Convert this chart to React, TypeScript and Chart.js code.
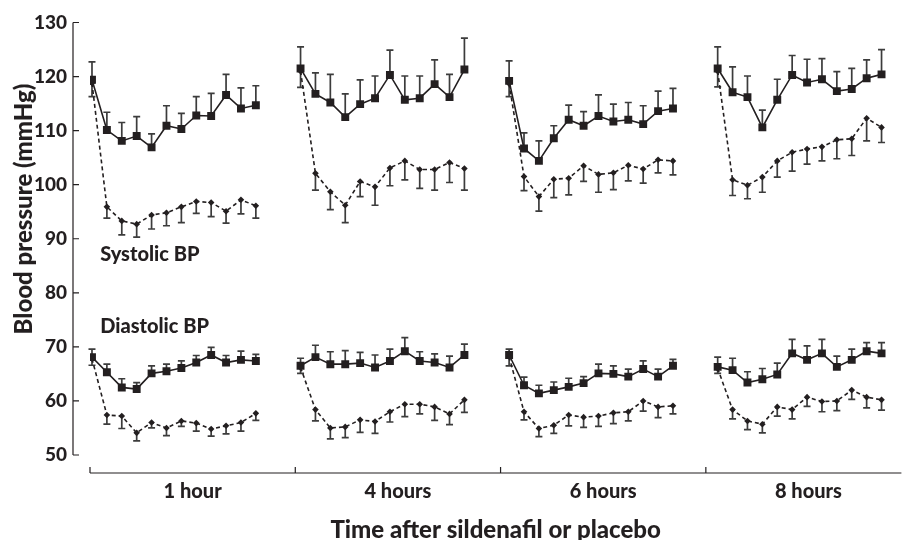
import React, { useEffect, useRef } from "react";
import { Chart, registerables } from "chart.js";

Chart.register(...registerables);

// ---------- data ----------
const groupLabels = ["1 hour", "4 hours", "6 hours", "8 hours"];
const yTickValues = [50, 60, 70, 80, 90, 100, 110, 120, 130];
const annotationTexts = ["Systolic BP", "Diastolic BP"];
const yTitle = "Blood pressure (mmHg)";
const xTitle = "Time after sildenafil or placebo";

// Systolic, placebo (solid line, squares) – per group of 12 readings
const sysPlacebo = [
  [119.4, 110.1, 108.1, 109.0, 106.9, 110.9, 110.3, 112.8, 112.7, 116.6, 114.1, 114.7],
  [121.5, 116.8, 115.2, 112.5, 114.9, 116.0, 120.3, 115.7, 116.0, 118.6, 116.2, 121.3],
  [119.2, 106.7, 104.4, 108.6, 112.0, 110.9, 112.7, 111.7, 112.0, 111.2, 113.6, 114.1],
  [121.5, 117.1, 116.2, 110.6, 115.7, 120.3, 118.9, 119.5, 117.3, 117.7, 119.7, 120.4],
];
const sysPlaceboErr = [
  [3.3, 3.3, 3.4, 3.6, 2.5, 3.7, 2.9, 3.5, 4.2, 3.8, 3.8, 3.6],
  [4.0, 3.9, 5.2, 4.3, 4.5, 4.1, 4.6, 4.4, 4.1, 4.5, 4.2, 5.8],
  [3.7, 2.9, 3.7, 2.3, 2.7, 2.6, 3.9, 3.2, 3.2, 3.4, 3.7, 3.7],
  [4.0, 4.7, 3.9, 3.2, 3.8, 3.6, 4.3, 3.8, 3.6, 3.8, 3.4, 4.6],
];

// Systolic, sildenafil (dashed line, diamonds)
const sysSildenafil = [
  [118.8, 95.9, 93.3, 92.7, 94.4, 94.8, 95.9, 96.9, 96.7, 95.1, 97.2, 96.1],
  [121.0, 102.1, 98.7, 96.2, 100.6, 99.6, 103.1, 104.4, 102.8, 102.8, 104.1, 103.0],
  [118.7, 101.5, 97.8, 101.0, 101.2, 103.5, 101.9, 102.2, 103.6, 102.9, 104.6, 104.4],
  [121.0, 100.9, 99.9, 101.4, 104.4, 106.0, 106.6, 107.0, 108.3, 108.5, 112.3, 110.6],
];
const sysSildenafilErr = [
  [2.5, 2.1, 2.6, 2.4, 2.6, 2.4, 2.9, 2.2, 2.6, 2.2, 2.6, 2.3],
  [3.0, 3.1, 3.3, 3.2, 2.8, 3.4, 3.3, 3.5, 3.5, 3.8, 3.7, 4.0],
  [2.4, 2.6, 2.7, 3.4, 3.1, 2.9, 3.3, 3.1, 2.9, 2.6, 2.4, 2.6],
  [2.9, 2.9, 2.5, 2.8, 3.0, 3.5, 2.8, 2.6, 3.5, 3.1, 4.2, 2.8],
];

// Diastolic, placebo (solid line, squares)
const diaPlacebo = [
  [68.1, 65.3, 62.5, 62.2, 65.1, 65.5, 66.1, 67.1, 68.5, 67.1, 67.6, 67.4],
  [66.5, 68.1, 66.8, 66.8, 67.0, 66.2, 67.4, 69.2, 67.4, 67.1, 66.2, 68.5],
  [68.5, 62.9, 61.4, 62.0, 62.6, 63.3, 65.1, 65.0, 64.5, 65.9, 64.5, 66.5],
  [66.3, 65.7, 63.4, 64.0, 64.9, 68.8, 67.6, 68.8, 66.3, 67.6, 69.2, 68.8],
];
const diaPlaceboErr = [
  [1.5, 1.5, 1.6, 1.2, 1.4, 1.3, 1.3, 1.3, 1.4, 1.3, 1.6, 1.2],
  [1.4, 2.2, 2.3, 2.5, 2.0, 2.3, 2.2, 2.5, 1.7, 1.6, 2.1, 2.0],
  [1.1, 1.5, 1.5, 1.5, 1.6, 1.2, 1.7, 1.5, 1.4, 1.5, 1.4, 1.2],
  [1.8, 2.2, 2.0, 2.0, 2.1, 2.6, 2.6, 2.6, 2.0, 2.0, 1.6, 2.0],
];

// Diastolic, sildenafil (dashed line, diamonds)
const diaSildenafil = [
  [67.8, 57.4, 57.2, 54.1, 56.0, 55.0, 56.3, 55.9, 54.8, 55.4, 56.0, 57.7],
  [66.2, 58.4, 55.0, 55.2, 56.5, 56.2, 58.0, 59.4, 59.4, 58.9, 57.6, 60.2],
  [68.2, 58.0, 54.9, 55.5, 57.4, 57.0, 57.2, 57.8, 58.0, 60.0, 58.9, 59.1],
  [66.0, 58.4, 56.3, 55.7, 58.9, 58.4, 60.7, 59.9, 60.0, 62.0, 60.7, 60.2],
];
const diaSildenafilErr = [
  [1.2, 1.7, 2.3, 1.5, 1.0, 1.4, 1.0, 1.5, 1.3, 1.5, 1.6, 1.3],
  [1.1, 2.1, 2.0, 2.0, 2.3, 2.2, 1.9, 2.3, 1.8, 2.5, 2.0, 2.3],
  [1.7, 1.5, 1.5, 1.5, 2.0, 1.9, 1.9, 2.0, 1.7, 1.9, 2.0, 1.5],
  [0.9, 1.7, 1.6, 1.6, 1.7, 1.7, 1.7, 1.9, 1.8, 1.7, 2.0, 1.9],
];

// ---------- helpers ----------
const FONT = "Lato, 'Open Sans', sans-serif";
const WEIGHT = "900";
const INK = "#231f20";
const BAR = "#3c3c3c";
const STEP = 14; // x units between the starts of two groups

function toPoints(groups: number[][]) {
  const pts: { x: number; y: number | null }[] = [];
  groups.forEach((vals, g) => {
    vals.forEach((v, i) => pts.push({ x: g * STEP + i, y: v }));
    pts.push({ x: g * STEP + 12.5, y: null });
  });
  return pts;
}
function toErrs(groups: number[][]) {
  const out: (number | null)[] = [];
  groups.forEach((vals) => {
    vals.forEach((v) => out.push(v));
    out.push(null);
  });
  return out;
}

const errorBarsPlugin = {
  id: "errorBars",
  beforeDatasetsDraw(chart: any) {
    const { ctx } = chart;
    const ys = chart.scales.y;
    chart.data.datasets.forEach((ds: any, di: number) => {
      const meta = chart.getDatasetMeta(di);
      ctx.save();
      ctx.strokeStyle = BAR;
      ctx.lineWidth = 1.7;
      meta.data.forEach((el: any, k: number) => {
        const raw = ds.data[k];
        const e = ds.errors[k];
        if (raw.y == null || e == null) return;
        const yEnd = ys.getPixelForValue(raw.y + ds.errDir * e);
        ctx.beginPath();
        ctx.moveTo(el.x, el.y);
        ctx.lineTo(el.x, yEnd);
        ctx.moveTo(el.x - 3.5, yEnd);
        ctx.lineTo(el.x + 3.5, yEnd);
        ctx.stroke();
      });
      ctx.restore();
    });
  },
};

const axesPlugin = {
  id: "axesLines",
  afterDraw(chart: any) {
    const { ctx, chartArea } = chart;
    const y = chart.scales.y;
    const x = chart.scales.x;
    const xg = chart.scales.xg;
    ctx.save();
    ctx.strokeStyle = INK;
    ctx.lineWidth = 1.2;
    const ax = chartArea.left - 17;
    ctx.beginPath();
    ctx.moveTo(ax, y.getPixelForValue(yTickValues[yTickValues.length - 1]));
    ctx.lineTo(ax, y.getPixelForValue(yTickValues[0]));
    yTickValues.forEach((v) => {
      const p = y.getPixelForValue(v);
      ctx.moveTo(ax, p);
      ctx.lineTo(ax + 6, p);
    });
    const by = chartArea.bottom;
    ctx.moveTo(chartArea.left, by);
    ctx.lineTo(chartArea.right, by);
    groupLabels.forEach((_, g) => {
      const p = xg.getPixelForValue(g);
      ctx.moveTo(p, by);
      ctx.lineTo(p, by - 6);
    });
    ctx.stroke();

    ctx.fillStyle = INK;
    ctx.textBaseline = "middle";
    ctx.textAlign = "left";
    ctx.font = `${WEIGHT} 20px ${FONT}`;
    ctx.fillText(annotationTexts[0], x.getPixelForValue(0.55), y.getPixelForValue(87));
    ctx.fillText(annotationTexts[1], x.getPixelForValue(0.55), y.getPixelForValue(73.7));

    ctx.translate(24, y.getPixelForValue(95.5));
    ctx.rotate(-Math.PI / 2);
    ctx.textAlign = "center";
    ctx.font = `${WEIGHT} 24px ${FONT}`;
    ctx.fillText(yTitle, 0, 0);
    ctx.restore();
  },
};

export default function App() {
  const ref = useRef<HTMLCanvasElement | null>(null);

  useEffect(() => {
    if (!ref.current) return;
    const W = 907;
    const left = 90;
    const plotW = W - left;
    const pxPerUnit = 15;
    const xMin = -2 / pxPerUnit;
    const groupPx = 206.7;

    const mk = (label: string, groups: number[][], errs: number[][], dashed: boolean) => ({
      label,
      data: toPoints(groups),
      errors: toErrs(errs),
      errDir: dashed ? -1 : 1,
      borderColor: INK,
      backgroundColor: INK,
      borderWidth: 1.6,
      borderDash: dashed ? [4, 3] : [],
      pointStyle: dashed ? "rectRot" : "rect",
      pointRadius: dashed ? 3.3 : 5.6,
      pointBorderWidth: 0,
      pointBackgroundColor: INK,
      spanGaps: false,
      tension: 0,
      xAxisID: "x",
      yAxisID: "y",
    });

    const chart = new Chart(ref.current, {
      type: "line",
      data: {
        datasets: [
          mk("Systolic sildenafil", sysSildenafil, sysSildenafilErr, true),
          mk("Diastolic sildenafil", diaSildenafil, diaSildenafilErr, true),
          mk("Systolic placebo", sysPlacebo, sysPlaceboErr, false),
          mk("Diastolic placebo", diaPlacebo, diaPlaceboErr, false),
        ] as any,
      },
      options: {
        animation: false,
        responsive: false,
        maintainAspectRatio: false,
        layout: { padding: { top: 22.5, left: 0, right: 0, bottom: 0 } },
        plugins: { legend: { display: false }, tooltip: { enabled: false } },
        scales: {
          x: {
            type: "linear",
            display: false,
            min: xMin,
            max: xMin + plotW / pxPerUnit,
          },
          xg: {
            type: "linear",
            position: "bottom",
            min: 0,
            max: plotW / groupPx,
            grid: { display: false, drawTicks: false },
            border: { display: false },
            afterBuildTicks: (s: any) => {
              const t: any[] = [];
              groupLabels.forEach((_, g) => {
                t.push({ value: g });
                t.push({ value: g + 0.5 });
              });
              s.ticks = t;
            },
            afterFit: (s: any) => {
              s.height = 67;
              s.paddingLeft = 0;
              s.paddingRight = 0;
            },
            ticks: {
              autoSkip: false,
              maxRotation: 0,
              padding: 7,
              color: INK,
              font: { family: FONT, size: 20, weight: WEIGHT },
              callback: (v: any) =>
                Number.isInteger(v) ? "" : groupLabels[Math.floor(v)],
            },
            title: {
              display: true,
              text: xTitle,
              color: INK,
              font: { family: FONT, size: 24, weight: WEIGHT, lineHeight: 1 },
              padding: { top: 0, bottom: -2 },
            },
          },
          y: {
            type: "linear",
            position: "left",
            min: 46.67,
            max: 130,
            grid: { display: false, drawTicks: false },
            border: { display: false },
            afterBuildTicks: (s: any) => {
              s.ticks = yTickValues.map((v) => ({ value: v }));
            },
            afterFit: (s: any) => {
              s.width = left;
              s.paddingTop = 0;
              s.paddingBottom = 0;
            },
            ticks: {
              padding: 23,
              color: INK,
              font: { family: FONT, size: 19, weight: WEIGHT },
            },
          },
        },
      } as any,
      plugins: [errorBarsPlugin, axesPlugin],
    });
    return () => chart.destroy();
  }, []);

  return (
    <div style={{ position: "fixed", left: 0, top: 0, width: 907, height: 540, background: "#fff" }}>
      <canvas ref={ref} width={907} height={540} style={{ width: 907, height: 540, display: "block" }} />
    </div>
  );
}
